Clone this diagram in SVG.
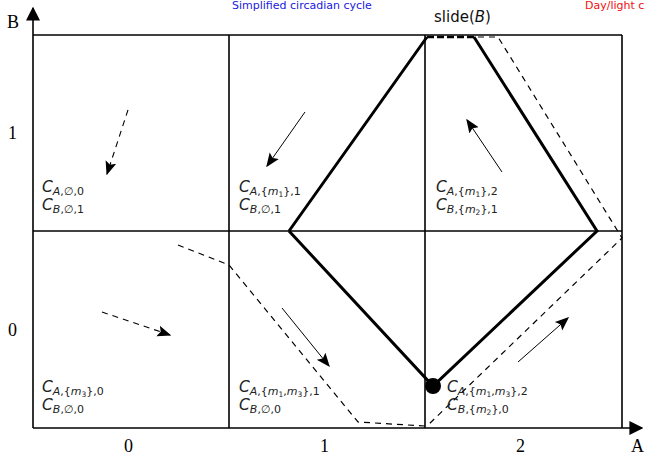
<svg xmlns="http://www.w3.org/2000/svg" width="649" height="455" viewBox="0 0 649 455">
<style>
.grid{stroke:#000;stroke-width:1.6;fill:none}
.thick{stroke:#000;stroke-width:3;fill:none;stroke-linejoin:miter}
.dash{stroke:#000;stroke-width:1.2;fill:none;stroke-dasharray:6 5}
.arr{stroke:#000;stroke-width:1;fill:none}
.arrd{stroke:#000;stroke-width:1.1;fill:none;stroke-dasharray:6 5}
.ax{font-family:"Liberation Serif",serif;font-size:18px;fill:#000}
.lab{font-family:"DejaVu Sans","Liberation Sans",sans-serif;font-size:15.5px;fill:#222}
.it{font-style:italic}
.sub{font-size:11px}
.ss{font-size:7.5px}
</style>
<defs>
<marker id="ah" viewBox="0 0 10 10" refX="9" refY="5" markerWidth="14" markerHeight="14" markerUnits="userSpaceOnUse" orient="auto">
<path d="M0,1 L10,5 L0,9 L2,5 Z" fill="#000"/>
</marker>
<marker id="axh" viewBox="0 0 10 10" refX="9" refY="5" markerWidth="14" markerHeight="14" markerUnits="userSpaceOnUse" orient="auto">
<path d="M0,0 L10,5 L0,10 Z" fill="#000"/>
</marker>
</defs>
<g id="grid">
<line class="grid" x1="33" y1="428" x2="33" y2="8" marker-end="url(#axh)"/>
<line class="grid" x1="33" y1="428" x2="642" y2="428" marker-end="url(#axh)"/>
<line class="grid" x1="33" y1="35" x2="622" y2="35"/>
<line class="grid" x1="33" y1="231" x2="622" y2="231"/>
<line class="grid" x1="229" y1="35" x2="229" y2="428"/>
<line class="grid" x1="425" y1="35" x2="425" y2="428"/>
<line class="grid" x1="622" y1="35" x2="622" y2="428"/>
</g>
<g id="axis-labels">
<text class="ax" x="7" y="28">B</text>
<text class="ax" x="8" y="139">1</text>
<text class="ax" x="8" y="336">0</text>
<text class="ax" x="124" y="452">0</text>
<text class="ax" x="320" y="452">1</text>
<text class="ax" x="516" y="452">2</text>
<text class="ax" x="631" y="452">A</text>
</g>
<g id="titles">
<text x="232" y="9" font-family="'DejaVu Sans','Liberation Sans',sans-serif" font-size="11" fill="#2020e0">Simplified circadian cycle</text>
<text x="585" y="9" font-family="'DejaVu Sans','Liberation Sans',sans-serif" font-size="11" fill="#ee1010">Day/light c</text>
<text x="434" y="22" font-family="'DejaVu Sans','Liberation Sans',sans-serif" font-size="15" fill="#111">slide(<tspan font-style="italic">B</tspan>)</text>
</g>
<g id="connectors">
<path class="thick" d="M289,231 L427,37 M474,37 L597,231 L433,386 L289,231"/>
<line x1="427" y1="37" x2="474" y2="37" stroke="#000" stroke-width="2.4" stroke-dasharray="7 3"/>
<path class="dash" d="M478,37 L498,37 L622,238 L427,426"/>
<path class="dash" d="M178,245 L229,265 L358,422 L425,426"/>
<line class="arrd" x1="128" y1="110" x2="107" y2="174" marker-end="url(#ah)"/>
<line class="arr" x1="305" y1="112" x2="267" y2="166" marker-end="url(#ah)"/>
<line class="arr" x1="502" y1="172" x2="467" y2="120" marker-end="url(#ah)"/>
<line class="arrd" x1="102" y1="312" x2="170" y2="335" marker-end="url(#ah)"/>
<line class="arr" x1="282" y1="308" x2="329" y2="366" marker-end="url(#ah)"/>
<line class="arr" x1="518" y1="362" x2="568" y2="318" marker-end="url(#ah)"/>
</g>
<g id="node-01">
<text class="lab" x="42" y="192"><tspan class="it">C</tspan><tspan class="sub" dy="3"><tspan class="it">A</tspan>,∅,0</tspan></text>
<text class="lab" x="42" y="210"><tspan class="it">C</tspan><tspan class="sub" dy="3"><tspan class="it">B</tspan>,∅,1</tspan></text>
</g>
<g id="node-11">
<text class="lab" x="239" y="192"><tspan class="it">C</tspan><tspan class="sub" dy="3"><tspan class="it">A</tspan>,{<tspan class="it">m</tspan><tspan class="ss" dy="1.5">1</tspan><tspan dy="-1.5">},1</tspan></tspan></text>
<text class="lab" x="239" y="210"><tspan class="it">C</tspan><tspan class="sub" dy="3"><tspan class="it">B</tspan>,∅,1</tspan></text>
</g>
<g id="node-21">
<text class="lab" x="436" y="192"><tspan class="it">C</tspan><tspan class="sub" dy="3"><tspan class="it">A</tspan>,{<tspan class="it">m</tspan><tspan class="ss" dy="1.5">1</tspan><tspan dy="-1.5">},2</tspan></tspan></text>
<text class="lab" x="436" y="210"><tspan class="it">C</tspan><tspan class="sub" dy="3"><tspan class="it">B</tspan>,{<tspan class="it">m</tspan><tspan class="ss" dy="1.5">2</tspan><tspan dy="-1.5">},1</tspan></tspan></text>
</g>
<g id="node-00">
<text class="lab" x="42" y="392"><tspan class="it">C</tspan><tspan class="sub" dy="3"><tspan class="it">A</tspan>,{<tspan class="it">m</tspan><tspan class="ss" dy="1.5">3</tspan><tspan dy="-1.5">},0</tspan></tspan></text>
<text class="lab" x="42" y="410"><tspan class="it">C</tspan><tspan class="sub" dy="3"><tspan class="it">B</tspan>,∅,0</tspan></text>
</g>
<g id="node-10">
<text class="lab" x="239" y="392"><tspan class="it">C</tspan><tspan class="sub" dy="3"><tspan class="it">A</tspan>,{<tspan class="it">m</tspan><tspan class="ss" dy="1.5">1</tspan><tspan dy="-1.5">,</tspan><tspan class="it">m</tspan><tspan class="ss" dy="1.5">3</tspan><tspan dy="-1.5">},1</tspan></tspan></text>
<text class="lab" x="239" y="410"><tspan class="it">C</tspan><tspan class="sub" dy="3"><tspan class="it">B</tspan>,∅,0</tspan></text>
</g>
<g id="node-20">
<circle cx="433" cy="386" r="8" fill="#000"/>
<text class="lab" x="447" y="392"><tspan class="it">C</tspan><tspan class="sub" dy="3"><tspan class="it">A</tspan>,{<tspan class="it">m</tspan><tspan class="ss" dy="1.5">1</tspan><tspan dy="-1.5">,</tspan><tspan class="it">m</tspan><tspan class="ss" dy="1.5">3</tspan><tspan dy="-1.5">},2</tspan></tspan></text>
<text class="lab" x="447" y="410"><tspan class="it">C</tspan><tspan class="sub" dy="3"><tspan class="it">B</tspan>,{<tspan class="it">m</tspan><tspan class="ss" dy="1.5">2</tspan><tspan dy="-1.5">},0</tspan></tspan></text>
</g>
</svg>
